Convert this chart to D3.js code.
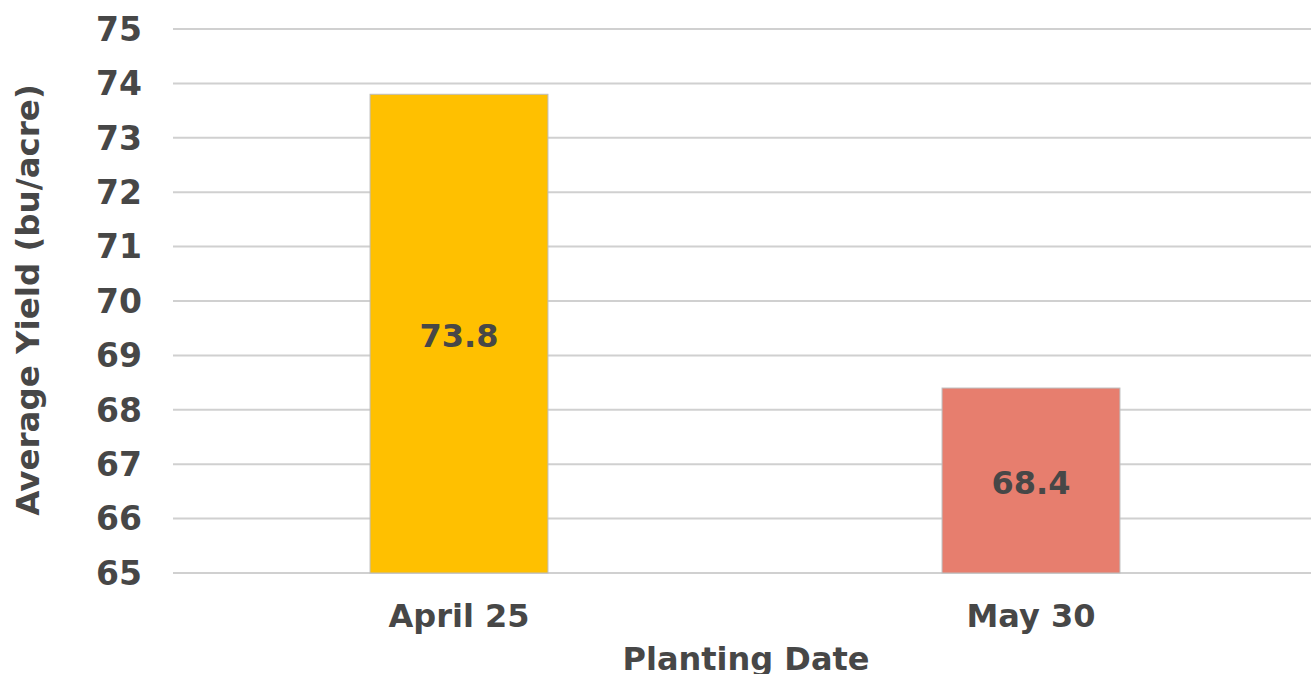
<!DOCTYPE html>
<html>
<head>
<meta charset="utf-8">
<script src="https://cdn.jsdelivr.net/npm/d3@7"></script>
<style>
  body { margin: 0; background: #fff; }
  svg text { font-family: "DejaVu Sans", Verdana, sans-serif; font-weight: bold; fill: #474747; }
</style>
</head>
<body>
<svg id="chart" width="1311" height="674"></svg>
<script>
// data
var categories = ["April 25", "May 30"];
var yields = [73.8, 68.4];
var barColors = ["#FFC000", "#E77E6E"];
var yTicks = [65, 66, 67, 68, 69, 70, 71, 72, 73, 74, 75];

var svg = d3.select("#chart");
var margin = { left: 173, right: -6, top: 29, bottom: 101 };
var width = 1311 - margin.left - margin.right;
var height = 674 - margin.top - margin.bottom;

var g = svg.append("g")
	.attr("transform", "translate(" + margin.left + "," + margin.top + ")");

var x = d3.scaleBand().domain(categories).range([0, width]).padding(0);
var y = d3.scaleLinear().domain([65, 75]).range([height, 0]);
var barW = x.bandwidth() * 0.311;

// gridlines
g.selectAll("line.grid")
	.data(yTicks)
	.enter().append("line")
	.attr("class", "grid")
	.attr("x1", 0)
	.attr("x2", width)
	.attr("y1", function(d) { return y(d); })
	.attr("y2", function(d) { return y(d); })
	.attr("stroke", "#d0d0d0")
	.attr("stroke-width", 2);

// y tick labels
g.selectAll("text.ytick")
	.data(yTicks)
	.enter().append("text")
	.attr("class", "ytick")
	.attr("x", -31)
	.attr("y", function(d) { return y(d); })
	.attr("dy", "0.36em")
	.attr("text-anchor", "end")
	.style("font-size", "33px")
	.text(function(d) { return d; });

// bars
var bars = g.selectAll("g.bar")
	.data(categories)
	.enter().append("g")
	.attr("class", "bar");

bars.append("rect")
	.attr("x", function(d) { return x(d) + x.bandwidth() / 2 - barW / 2; })
	.attr("y", function(d, i) { return y(yields[i]); })
	.attr("width", barW)
	.attr("height", function(d, i) { return height - y(yields[i]); })
	.attr("fill", function(d, i) { return barColors[i]; })
	.attr("stroke", "#bdbdbd")
	.attr("stroke-width", 1);

bars.append("text")
	.attr("x", function(d) { return x(d) + x.bandwidth() / 2; })
	.attr("y", function(d, i) { return (y(yields[i]) + height) / 2 + 2; })
	.attr("dy", "0.36em")
	.attr("text-anchor", "middle")
	.style("font-size", "32px")
	.text(function(d, i) { return yields[i].toFixed(1); });

// category labels
g.selectAll("text.cat")
	.data(categories)
	.enter().append("text")
	.attr("class", "cat")
	.attr("x", function(d) { return x(d) + x.bandwidth() / 2; })
	.attr("y", height + 42)
	.attr("dy", "0.36em")
	.attr("text-anchor", "middle")
	.style("font-size", "32px")
	.text(function(d) { return d; });

// axis titles
svg.append("text")
	.attr("x", 746)
	.attr("y", 658)
	.attr("dy", "0.36em")
	.attr("text-anchor", "middle")
	.style("font-size", "32px")
	.text("Planting Date");

svg.append("text")
	.attr("transform", "translate(27,300) rotate(-90)")
	.attr("dy", "0.36em")
	.attr("text-anchor", "middle")
	.style("font-size", "32.5px")
	.text("Average Yield (bu/acre)");
</script>
</body>
</html>
